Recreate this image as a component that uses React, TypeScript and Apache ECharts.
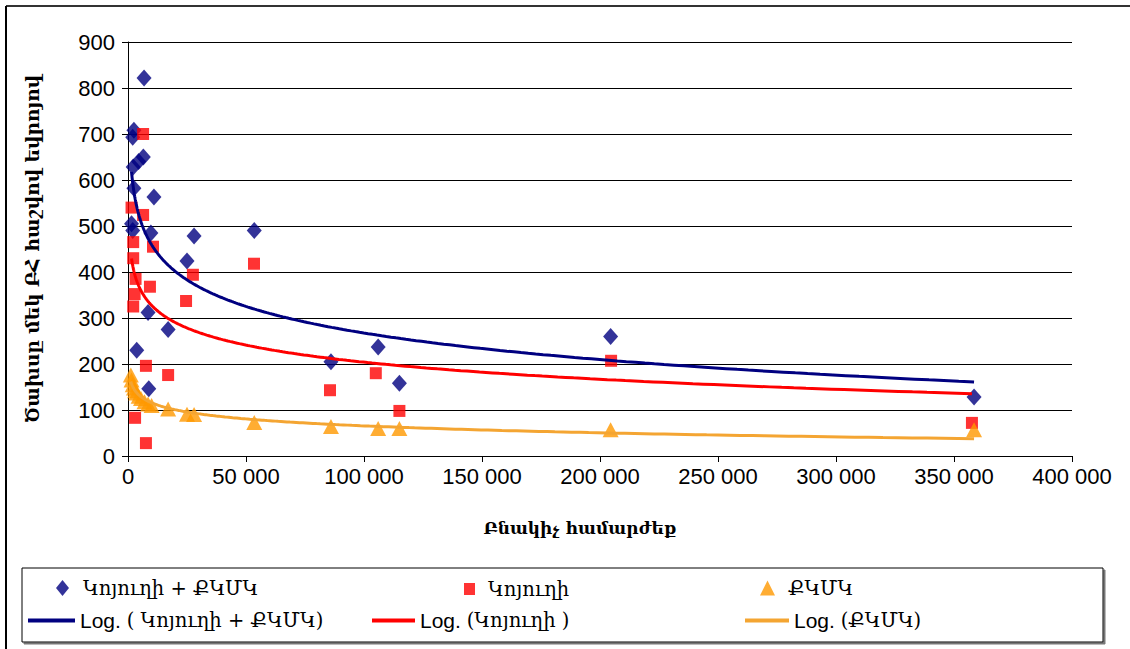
import React, { useEffect, useRef } from "react";
import * as echarts from "echarts";

// ---- data ----
const NAME_BOTH = "Կոյուղի + ՔԿՄԿ";
const NAME_SEWER = "Կոյուղի";
const NAME_WWTP = "ՔԿՄԿ";
const NAME_LOG_BOTH = "Log. ( Կոյուղի + ՔԿՄԿ)";
const NAME_LOG_SEWER = "Log. (Կոյուղի )";
const NAME_LOG_WWTP = "Log. (ՔԿՄԿ)";

const X_TITLE = "Բնակիչ համարժեք";
const Y_TITLE = "Ծախսը մեկ ԲՀ հաշվով եվրոյով";

const BOTH_X = [6800, 2500, 2000, 2200, 4500, 6500, 2500, 11000, 1500, 2000, 9700, 28000, 53500, 25000, 8500, 17000, 3700, 8800, 86000, 106000, 115000, 204500, 358500];
const BOTH_Y = [822, 708, 693, 628, 640, 650, 582, 563, 505, 490, 485, 478, 490, 424, 312, 275, 230, 146, 205, 237, 158, 260, 128];

const SEWER_X = [6400, 1500, 6400, 2200, 10600, 2200, 3200, 2800, 2200, 9300, 27500, 24600, 53400, 7600, 17000, 3000, 7600, 85600, 105000, 115000, 204700, 357600];
const SEWER_Y = [700, 540, 524, 465, 455, 430, 385, 352, 325, 368, 394, 337, 418, 196, 176, 83, 28, 143, 180, 98, 207, 72];

const WWTP_X = [1200, 1500, 2000, 2500, 3000, 3500, 4500, 5500, 7000, 8500, 10000, 17000, 25000, 28000, 53500, 86000, 106000, 115000, 204500, 358500];
const WWTP_Y = [176, 165, 155, 148, 142, 137, 130, 125, 118, 113, 110, 102, 91, 90, 73, 64, 60, 60, 57, 57];

const X_MIN = 0;
const X_MAX = 400000;
const X_STEP = 50000;
const Y_MIN = 0;
const Y_MAX = 900;
const Y_STEP = 100;

// Excel-style logarithmic trendline: least squares of y on ln(x)
function logTrend(xs: number[], ys: number[], samples = 300) {
  const lx = xs.map((v) => Math.log(v));
  const n = xs.length;
  const mx = lx.reduce((a, b) => a + b, 0) / n;
  const my = ys.reduce((a, b) => a + b, 0) / n;
  let sxy = 0;
  let sxx = 0;
  for (let i = 0; i < n; i++) {
    sxy += (lx[i] - mx) * (ys[i] - my);
    sxx += (lx[i] - mx) * (lx[i] - mx);
  }
  const a = sxy / sxx;
  const b = my - a * mx;
  const xmin = Math.min(...xs);
  const xmax = Math.max(...xs);
  const pts: number[][] = [];
  for (let i = 0; i <= samples; i++) {
    const x = xmin * Math.pow(xmax / xmin, i / samples);
    pts.push([x, a * Math.log(x) + b]);
  }
  return pts;
}

const zip = (xs: number[], ys: number[]) => xs.map((x, i) => [x, ys[i]]);
const fmt = (v: number) => String(v).replace(/\B(?=(\d{3})+(?!\d))/g, " ");

const NAVY = "#000080";
const RED = "#FF0000";
const ORANGE = "#FF9900";
const ORANGE_LINE = "#F4A532";
const SANS = '"Liberation Sans", Arial, sans-serif';
const SERIF = '"DejaVu Serif", serif';

export default function App() {
  const ref = useRef<HTMLDivElement>(null);
  useEffect(() => {
    document.body.style.margin = "0";
    if (!ref.current) return;
    const chart = echarts.init(ref.current, undefined, { renderer: "svg" });

    const legendText = {
      fontFamily: SERIF,
      fontSize: 19,
      color: "#000",
      rich: {
        l: { fontFamily: SANS, fontSize: 21, color: "#000" },
        a: { fontFamily: SERIF, fontSize: 19.5, color: "#000" },
      },
    };
    const legendFmt = (name: string) =>
      name.startsWith("Log.") ? `{l|Log. }{a|${name.slice(5)}}` : `{a|${name}}`;
    const mkLegend = (name: string, left: number, top: number, extra: any) => ({
      data: [name],
      left,
      top,
      padding: 0,
      orient: "horizontal",
      selectedMode: false,
      formatter: legendFmt,
      textStyle: legendText,
      ...extra,
    });

    chart.setOption({
      animation: false,
      backgroundColor: "#fff",
      grid: { left: 128, right: 58, top: 42, bottom: 193 },
      xAxis: {
        type: "value",
        min: X_MIN,
        max: X_MAX,
        interval: X_STEP,
        name: X_TITLE,
        nameLocation: "middle",
        nameGap: 63,
        nameTextStyle: { fontFamily: SERIF, fontWeight: "bold", fontSize: 17, color: "#000", padding: [0, 40, 0, 0] },
        axisLine: { show: true, onZero: false, lineStyle: { color: "#000", width: 1 } },
        axisTick: { show: true, inside: false, length: 6, lineStyle: { color: "#000" } },
        axisLabel: { formatter: fmt, fontFamily: SANS, fontSize: 22, color: "#000", margin: 9 },
        splitLine: { show: false },
      },
      yAxis: {
        type: "value",
        min: Y_MIN,
        max: Y_MAX,
        interval: Y_STEP,
        name: Y_TITLE,
        nameLocation: "middle",
        nameGap: 86,
        nameTextStyle: { fontFamily: SERIF, fontWeight: "bold", fontSize: 18.5, color: "#000" },
        axisLine: { show: true, lineStyle: { color: "#000", width: 1 } },
        axisTick: { show: true, inside: false, length: 6, lineStyle: { color: "#000" } },
        axisLabel: { fontFamily: SANS, fontSize: 22, color: "#000", margin: 13 },
        splitLine: { show: true, lineStyle: { color: "#000", width: 1 } },
      },
      legend: [
        mkLegend(NAME_BOTH, 56, 578, { itemWidth: 13, itemHeight: 16, textStyle: { ...legendText, padding: [0, 0, 0, 9] } }),
        mkLegend(NAME_SEWER, 464, 579, { itemWidth: 11, itemHeight: 12, textStyle: { ...legendText, padding: [0, 0, 0, 8] } }),
        mkLegend(NAME_WWTP, 760, 578, { itemWidth: 15, itemHeight: 15, textStyle: { ...legendText, padding: [0, 0, 0, 8] } }),
        mkLegend(NAME_LOG_BOTH, 28, 610, { itemWidth: 47, itemHeight: 4, icon: "rect" }),
        mkLegend(NAME_LOG_SEWER, 372, 610, { itemWidth: 43, itemHeight: 4, icon: "rect" }),
        mkLegend(NAME_LOG_WWTP, 745, 610, { itemWidth: 44, itemHeight: 4, icon: "rect" }),
      ],
      graphic: [
        { type: "line", shape: { x1: 6, y1: 6, x2: 1130, y2: 6 }, style: { stroke: "#333", lineWidth: 2 }, z: -1 },
        { type: "line", shape: { x1: 6, y1: 6, x2: 6, y2: 649 }, style: { stroke: "#000", lineWidth: 2 }, z: -1 },
        {
          type: "rect",
          shape: { x: 22, y: 568, width: 1081, height: 74 },
          style: { fill: "#fff", stroke: "#000", lineWidth: 1, shadowColor: "#777", shadowOffsetX: 2, shadowOffsetY: 2, shadowBlur: 0 },
          z: -1,
        },
      ],
      series: [
        {
          name: NAME_BOTH,
          type: "scatter",
          symbol: "diamond",
          symbolSize: [15, 17],
          itemStyle: { color: NAVY },
          data: zip(BOTH_X, BOTH_Y),
          z: 3,
        },
        {
          name: NAME_SEWER,
          type: "scatter",
          symbol: "rect",
          symbolSize: 12,
          itemStyle: { color: RED },
          data: zip(SEWER_X, SEWER_Y),
          z: 4,
        },
        {
          name: NAME_WWTP,
          type: "scatter",
          symbol: "triangle",
          symbolSize: [16, 15],
          itemStyle: { color: ORANGE },
          data: zip(WWTP_X, WWTP_Y),
          z: 5,
        },
        {
          name: NAME_LOG_BOTH,
          type: "line",
          showSymbol: false,
          symbol: "none",
          lineStyle: { color: NAVY, width: 3 },
          itemStyle: { color: NAVY },
          data: logTrend(BOTH_X, BOTH_Y),
          z: 6,
        },
        {
          name: NAME_LOG_SEWER,
          type: "line",
          showSymbol: false,
          symbol: "none",
          lineStyle: { color: RED, width: 3 },
          itemStyle: { color: RED },
          data: logTrend(SEWER_X, SEWER_Y),
          z: 6,
        },
        {
          name: NAME_LOG_WWTP,
          type: "line",
          showSymbol: false,
          symbol: "none",
          lineStyle: { color: ORANGE_LINE, width: 3 },
          itemStyle: { color: ORANGE_LINE },
          data: logTrend(WWTP_X, WWTP_Y),
          z: 6,
        },
      ],
    });
    return () => chart.dispose();
  }, []);
  return <div ref={ref} style={{ width: 1130, height: 649 }} />;
}
